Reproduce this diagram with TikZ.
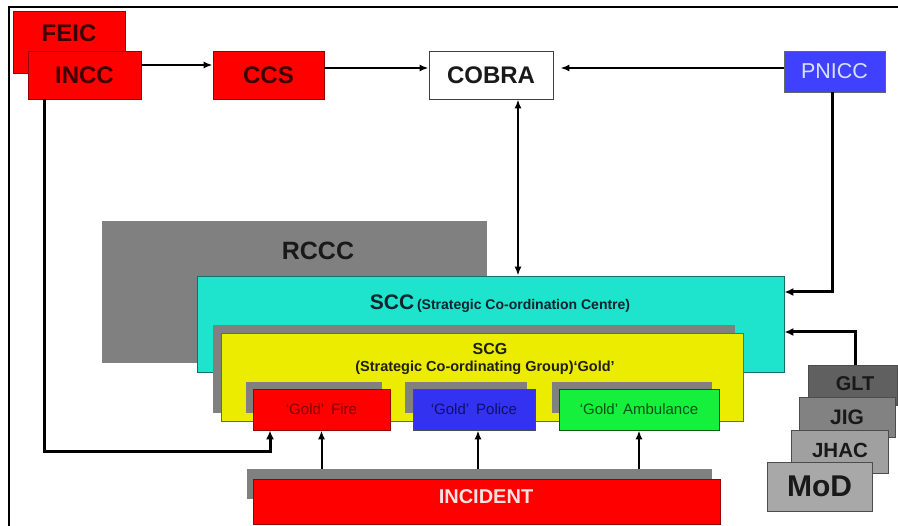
\documentclass[tikz,border=0pt]{standalone}
\usepackage{fontspec}
\setmainfont{Liberation Sans}
\usetikzlibrary{arrows.meta}
\definecolor{bred}{RGB}{255,0,0}
\definecolor{bredline}{RGB}{150,0,0}
\definecolor{darkred}{RGB}{60,0,0}
\definecolor{teal1}{RGB}{30,228,206}
\definecolor{yel}{RGB}{236,236,0}
\definecolor{polblue}{RGB}{50,50,240}
\definecolor{pnblue}{RGB}{64,64,255}
\definecolor{ambgreen}{RGB}{20,240,60}
\definecolor{shgray}{RGB}{128,128,128}
\definecolor{gltgray}{RGB}{96,96,96}
\definecolor{jiggray}{RGB}{130,130,130}
\definecolor{jhacgray}{RGB}{160,160,160}
\definecolor{modgray}{RGB}{168,168,168}
\begin{document}
\begin{tikzpicture}[x=1pt,y=-1pt,
  bx/.style={rectangle, inner sep=0pt, draw=black!75, line width=0.8pt},
  redbox/.style={bx, fill=bred, draw=bredline, text=darkred, font=\fontsize{24}{24}\selectfont\bfseries},
  shadowbox/.style={rectangle, inner sep=0pt, fill=shgray},
  goldtxt/.style={font=\fontsize{15}{15}\selectfont},
  stackbox/.style={bx, draw=black!70, text=black!90, font=\fontsize{21}{21}\selectfont\bfseries},
  arr/.style={-{Latex[length=9pt,width=7pt]}, line width=2pt, black},
  darr/.style={{Latex[length=9pt,width=7pt]}-{Latex[length=9pt,width=7pt]}, line width=2pt, black},
  tarr/.style={-{Latex[length=9pt,width=8pt]}, line width=3pt, black}
]
\useasboundingbox (0,0) rectangle (898,526);
% frame
\draw[line width=2pt, black] (9,526) -- (9,7) -- (898,7);

% top row
\node[redbox, minimum width=112pt, minimum height=62pt] (feic) at (69,42) {};
\node[text=darkred, font=\fontsize{24}{24}\selectfont\bfseries] (feict) at (69,33) {FEIC};
\node[redbox, minimum width=113pt, minimum height=48pt] (incc) at (84.5,75) {INCC};
\node[redbox, minimum width=111pt, minimum height=48pt] (ccs) at (268.5,75) {CCS};
\node[bx, fill=white, minimum width=124pt, minimum height=48pt, font=\fontsize{24}{24}\selectfont\bfseries, text=black!90] (cobra) at (491,75) {COBRA};
\node[bx, fill=pnblue, draw=black!60, minimum width=101pt, minimum height=41pt, font=\fontsize{21.5}{21.5}\selectfont, text={rgb,255:red,215;green,225;blue,255}] (pnicc) at (834.5,71.5) {PNICC};

% RCCC
\node[shadowbox, minimum width=385pt, minimum height=142pt] (rccc) at (294.5,292) {};
\node[font=\fontsize{25}{25}\selectfont\bfseries, text=black!90] (rccct) at (318,251) {RCCC};

% SCC
\node[bx, fill=teal1, draw={rgb,255:red,20;green,110;blue,110}, minimum width=587pt, minimum height=96pt] (scc) at (490.5,324) {};
\node[text={rgb,255:red,15;green,35;blue,45}] (scct) at (500,304) {{\fontsize{21}{21}\selectfont\bfseries SCC} {\fontsize{14}{14}\selectfont\bfseries (Strategic Co-ordination Centre)}};

% SCG
\node[shadowbox, minimum width=522pt, minimum height=88pt] (scgsh) at (474,369) {};
\node[bx, fill=yel, draw=black!60, minimum width=522pt, minimum height=88pt] (scg) at (482,377) {};
\node[font=\fontsize{16}{16}\selectfont\bfseries, text={rgb,255:red,30;green,30;blue,20}] (scgt1) at (490,349) {SCG};
\node[font=\fontsize{14.5}{14.5}\selectfont\bfseries, text={rgb,255:red,30;green,30;blue,20}] (scgt2) at (485,368) {(Strategic Co-ordinating Group)‘Gold’};

% Gold boxes
\node[shadowbox, minimum width=136pt, minimum height=31pt] (firesh) at (314,397.5) {};
\node[bx, fill=bred, draw=bredline, minimum width=137pt, minimum height=41pt, goldtxt, text={rgb,255:red,130;green,0;blue,0}] (fire) at (321.5,409.5) {‘Gold’\hspace{7pt}Fire};
\node[shadowbox, minimum width=122pt, minimum height=31pt] (policesh) at (466,397.5) {};
\node[bx, fill=polblue, draw=black!70, minimum width=122pt, minimum height=41pt, goldtxt, text={rgb,255:red,15;green,15;blue,110}] (police) at (474,409.5) {‘Gold’\hspace{7pt}Police};
\node[shadowbox, minimum width=160pt, minimum height=31pt] (ambsh) at (632,397.5) {};
\node[bx, fill=ambgreen, draw={rgb,255:red,0;green,90;blue,20}, minimum width=160pt, minimum height=41pt, goldtxt, text={rgb,255:red,0;green,85;blue,20}] (amb) at (639,409.5) {‘Gold’\hspace{5pt}Ambulance};

% INCIDENT
\node[shadowbox, minimum width=465pt, minimum height=30pt] (incsh) at (479.5,484) {};
\node[bx, fill=bred, draw=bredline, minimum width=467pt, minimum height=45pt] (incident) at (486.5,501.5) {};
\node[font=\fontsize{20}{20}\selectfont\bfseries, text={rgb,255:red,255;green,225;blue,225}] (inct) at (486,497) {INCIDENT};

% stack on the right
\node[stackbox, fill=gltgray, minimum width=89pt, minimum height=40pt] (glt) at (852.5,385) {};
\node[font=\fontsize{20}{20}\selectfont\bfseries, text=black!90] (gltt) at (855,384) {GLT};
\node[stackbox, fill=jiggray, minimum width=96pt, minimum height=40pt] (jig) at (847,417) {};
\node[font=\fontsize{21}{21}\selectfont\bfseries, text=black!90] (jigt) at (847,417) {JIG};
\node[stackbox, fill=jhacgray, minimum width=97pt, minimum height=43pt] (jhac) at (839.5,451.5) {};
\node[font=\fontsize{20.5}{20.5}\selectfont\bfseries, text=black!90] (jhact) at (840,450) {JHAC};
\node[stackbox, fill=modgray, minimum width=105pt, minimum height=49pt, font=\fontsize{30}{30}\selectfont\bfseries] (mod) at (819.5,486.5) {MoD};

% connectors
\draw[arr] ([yshift=10pt]incc.east) -- ([yshift=10pt]ccs.west);
\draw[arr] ([yshift=7pt]ccs.east) -- ([yshift=7pt]cobra.west);
\coordinate (cobraR) at ([yshift=7pt, xshift=7pt]cobra.east);
\draw[arr] (cobraR -| pnicc.west) -- (cobraR);
\coordinate (cobraB) at ([xshift=27pt]cobra.south);
\draw[darr] (cobraB) -- (cobraB |- scc.north);
\coordinate (pnB) at ([xshift=-2.5pt]pnicc.south);
\draw[tarr] (pnB) |- ([yshift=32pt]scc.east);
\coordinate (gltT) at ([xshift=2.5pt]glt.north);
\draw[tarr] (gltT) |- ([yshift=-8pt]scc.east);
\coordinate (inccB) at ([xshift=-40.5pt]incc.south);
\coordinate (loop) at (270,452);
\draw[tarr] (inccB) |- (loop) -- (loop |- fire.south);
\draw[arr] (fire.south |- incsh.north) -- (fire.south);
\coordinate (polX) at ([xshift=4pt]police.south);
\draw[arr] (polX |- incsh.north) -- (polX);
\draw[arr] (amb.south |- incsh.north) -- (amb.south);
\end{tikzpicture}
\end{document}
